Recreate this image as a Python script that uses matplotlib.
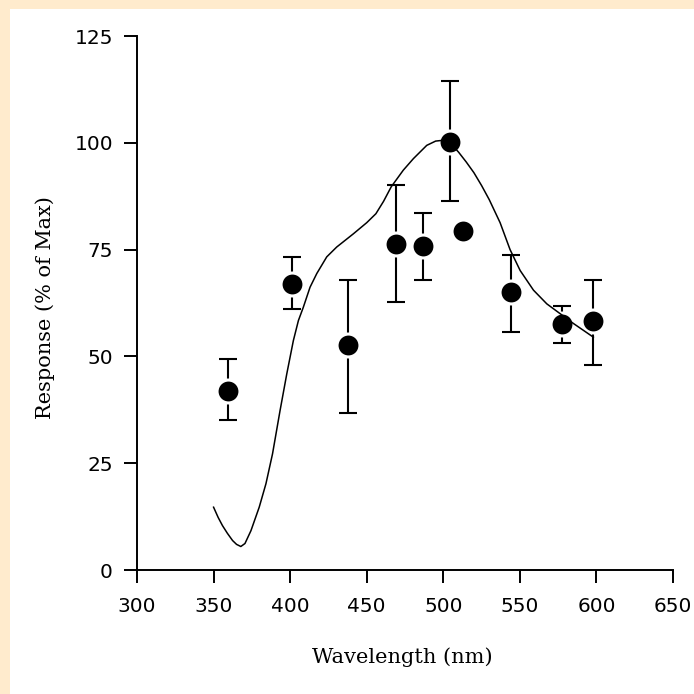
import matplotlib
matplotlib.use("Agg")
import matplotlib.pyplot as plt
from matplotlib.patches import Rectangle
import numpy as np

# Measured points
wavelength = [359.6, 401.4, 438.0, 469.2, 486.6, 504.4, 513.1, 544.3, 577.4, 598.0]
response = [42.0, 67.0, 52.6, 76.4, 75.8, 100.2, 79.3, 65.1, 57.7, 58.3]
err_low = [35.0, 61.2, 36.8, 62.7, 68.0, 86.3, 79.3, 55.7, 53.1, 48.1]
err_high = [49.4, 73.3, 68.0, 90.1, 83.6, 114.4, 79.3, 73.8, 61.7, 68.0]

# Spectral curve
curve_nm = [350, 353, 355.8, 359, 362.4, 365, 367.8, 370.5, 374.4, 379.8, 384.2,
            388.5, 393.4, 397.8, 402.1, 405.4, 408.6, 413.0, 417.4, 423.9, 430.4,
            441.3, 450.0, 456.0, 461.0, 466.0, 473.9, 480.5, 489.2, 495, 500.1,
            505, 510, 515, 520, 525, 530, 537.1, 543.6, 550.2, 558.9, 567.6,
            576.3, 585.0, 598.0]
curve_val = [14.7, 12.3, 10.4, 8.6, 6.9, 6.0, 5.5, 6.2, 9.2, 14.7, 20.2,
             27.2, 37.3, 45.9, 53.7, 58.4, 61.5, 66.2, 69.4, 73.3, 75.6,
             78.7, 81.3, 83.4, 86.3, 89.7, 93.6, 96.3, 99.4, 100.4, 100.6,
             99.8, 97.8, 95.5, 93.0, 90.0, 86.7, 81.3, 75.0, 70.1, 65.5, 62.3,
             60.0, 57.7, 54.5]

x_ticks = [300, 350, 400, 450, 500, 550, 600, 650]
y_ticks = [0, 25, 50, 75, 100, 125]

W = H = 694
fig = plt.figure(figsize=(W / 100, H / 100), dpi=100, facecolor="white")

peach = "#FFEBCD"
fig.patches.append(Rectangle((0, 0), 10 / W, 1, transform=fig.transFigure,
                             facecolor=peach, edgecolor="none", zorder=0))
fig.patches.append(Rectangle((0, 1 - 9 / H), 1, 9 / H, transform=fig.transFigure,
                             facecolor=peach, edgecolor="none", zorder=0))

ax_l, ax_r, ax_t, ax_b = 137, 673, 36, 570
ax = fig.add_axes([ax_l / W, 1 - ax_b / H, (ax_r - ax_l) / W, (ax_b - ax_t) / H])
ax.set_facecolor("none")

resp = np.array(response)
yerr = [resp - np.array(err_low), np.array(err_high) - resp]

ax.errorbar(wavelength, response, yerr=yerr, fmt="none", ecolor="black",
            elinewidth=1.5, capsize=6.5, capthick=1.5, zorder=2)
ax.plot(wavelength, response, "o", color="black", markersize=16.5,
        markeredgecolor="white", markeredgewidth=2.2, zorder=3)
ax.plot(curve_nm, curve_val, color="black", linewidth=1.1, zorder=4,
        solid_joinstyle="round")

ax.set_xlim(300, 650)
ax.set_ylim(0, 125)
ax.set_xticks(x_ticks)
ax.set_yticks(y_ticks)
for s in ["top", "right"]:
    ax.spines[s].set_visible(False)
for s in ["left", "bottom"]:
    ax.spines[s].set_linewidth(1.4)
ax.tick_params(direction="out", length=9.7, width=1.4,
               labelsize=14.5, labelfontfamily="DejaVu Sans")
ax.tick_params(axis="x", pad=9.4)
ax.tick_params(axis="y", pad=7.6)

ax.set_xlabel("Wavelength (nm)", fontsize=15, family="DejaVu Serif")
ax.set_ylabel("Response (% of Max)", fontsize=15, family="DejaVu Serif")
ax.xaxis.set_label_coords(0.495, (ax_b - 647) / (ax_b - ax_t))
ax.xaxis.label.set_va("top")
ax.yaxis.set_label_coords((55 - ax_l) / (ax_r - ax_l), (ax_b - 307.5) / (ax_b - ax_t))

fig.savefig("out.png", dpi=100, facecolor="white")
